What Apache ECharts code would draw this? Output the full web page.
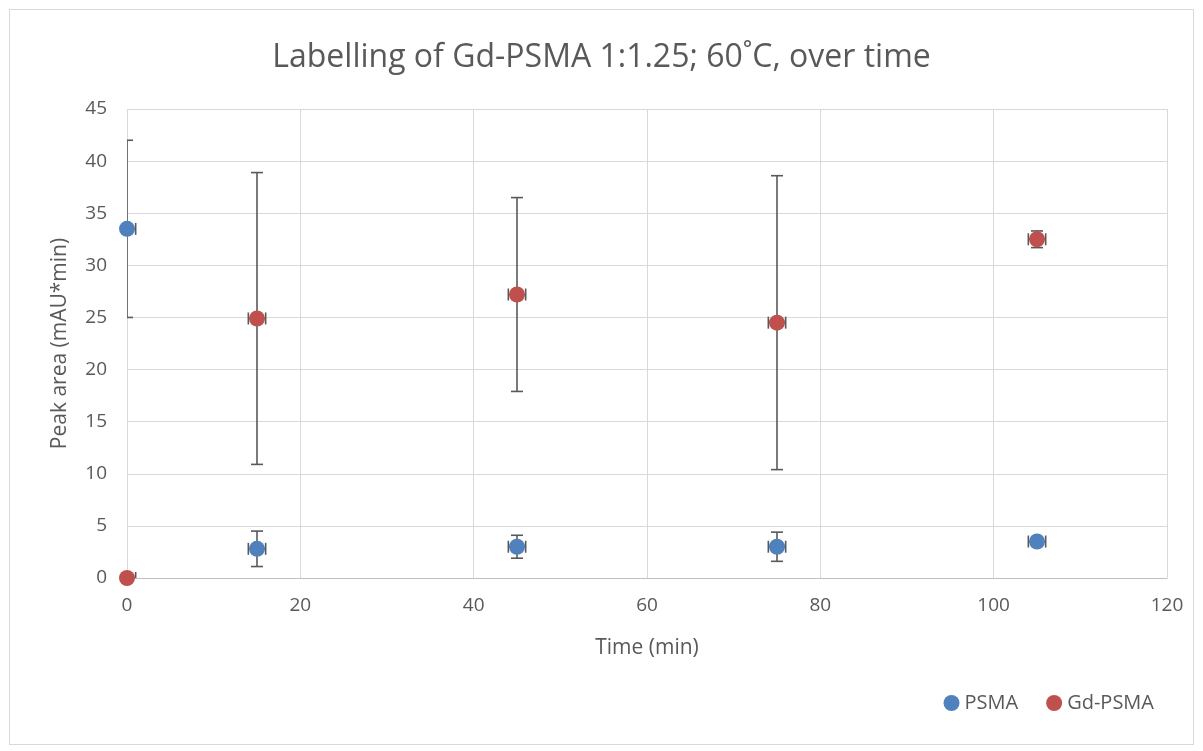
<!DOCTYPE html>
<html><head><meta charset="utf-8">
<script src="https://cdn.jsdelivr.net/npm/echarts@6/dist/echarts.min.js"></script>
<style>
html,body{margin:0;padding:0;background:#fff;}
#frame{position:absolute;left:9px;top:9px;width:1185px;height:736px;border:1px solid #d9d9d9;box-sizing:border-box;}
#c{position:absolute;left:0;top:0;width:1203px;height:751px;}
</style></head>
<body><div id="frame"></div><div id="c"></div>
<script>
const time = [0, 15, 45, 75, 105];
const psma = [33.5, 2.8, 3.0, 3.0, 3.5];
const psmaErr = [8.5, 1.7, 1.1, 1.4, 0];
const gd = [0, 24.9, 27.2, 24.5, 32.5];
const gdErr = [0, 14.0, 9.3, 14.1, 0.8];
const xErr = [1, 1, 1, 1, 1];

const FONT = 'Open Sans';
const TXT = '#595959';
const chart = echarts.init(document.getElementById('c'), null, {renderer: 'canvas'});

function errSeries(vals, errs) {
  const data = time.map((t, i) => [t, vals[i], errs[i], xErr[i]]);
  return {
    type: 'custom', clip: true, z: 1, silent: true,
    data: data,
    renderItem: function (params, api) {
      const x = api.value(0), y = api.value(1), e = api.value(2), xe = api.value(3);
      const children = [];
      const st = {stroke: '#595959', lineWidth: 1.6};
      const cap = 6;
      if (e > 0) {
        const lo = api.coord([x, y - e]), hi = api.coord([x, y + e]);
        children.push({type: 'line', shape: {x1: lo[0], y1: lo[1], x2: hi[0], y2: hi[1]}, style: st});
        children.push({type: 'line', shape: {x1: lo[0] - cap, y1: lo[1], x2: lo[0] + cap, y2: lo[1]}, style: st});
        children.push({type: 'line', shape: {x1: hi[0] - cap, y1: hi[1], x2: hi[0] + cap, y2: hi[1]}, style: st});
      }
      if (xe > 0) {
        const l = api.coord([x - xe, y]), r = api.coord([x + xe, y]);
        children.push({type: 'line', shape: {x1: l[0], y1: l[1], x2: r[0], y2: r[1]}, style: st});
        children.push({type: 'line', shape: {x1: l[0], y1: l[1] - cap, x2: l[0], y2: l[1] + cap}, style: st});
        children.push({type: 'line', shape: {x1: r[0], y1: r[1] - cap, x2: r[0], y2: r[1] + cap}, style: st});
      }
      return {type: 'group', children: children};
    }
  };
}

chart.setOption({
  animation: false,
  title: {
    text: 'Labelling of Gd-PSMA 1:1.25; 60˚C, over time',
    left: 'center', top: 37,
    textStyle: {fontFamily: FONT, fontSize: 32, fontWeight: 'normal', color: TXT}
  },
  legend: {
    right: 44, top: 688, itemWidth: 16, itemHeight: 16, itemGap: 28,
    textStyle: {fontFamily: FONT, fontSize: 20, color: TXT},
    data: [{name: 'PSMA', icon: 'circle'}, {name: 'Gd-PSMA', icon: 'circle'}]
  },
  grid: {left: 127, right: 36, top: 109, bottom: 173, containLabel: false},
  xAxis: {
    type: 'value', min: 0, max: 120, interval: 20,
    name: 'Time (min)', nameLocation: 'middle', nameGap: 60,
    nameTextStyle: {fontFamily: FONT, fontSize: 21, color: TXT},
    axisLine: {show: true, lineStyle: {color: '#bfbfbf'}},
    axisTick: {show: false},
    axisLabel: {fontFamily: FONT, fontSize: 19, color: TXT, margin: 18},
    splitLine: {show: true, lineStyle: {color: '#d9d9d9', width: 1}}
  },
  yAxis: {
    type: 'value', min: 0, max: 45, interval: 5,
    name: 'Peak area (mAU*min)', nameLocation: 'middle', nameGap: 56,
    nameTextStyle: {fontFamily: FONT, fontSize: 21, color: TXT},
    axisLine: {show: false}, axisTick: {show: false},
    axisLabel: {fontFamily: FONT, fontSize: 19, color: TXT, margin: 20},
    splitLine: {show: true, lineStyle: {color: '#d9d9d9', width: 1}}
  },
  series: [
    errSeries(psma, psmaErr),
    errSeries(gd, gdErr),
    {name: 'PSMA', type: 'scatter', z: 3, symbol: 'circle', symbolSize: 16,
      itemStyle: {color: '#4F81BD', opacity: 1}, data: time.map((t, i) => [t, psma[i]])},
    {name: 'Gd-PSMA', type: 'scatter', z: 3, symbol: 'circle', symbolSize: 16,
      itemStyle: {color: '#C0504D', opacity: 1}, data: time.map((t, i) => [t, gd[i]])}
  ]
});
</script></body></html>
